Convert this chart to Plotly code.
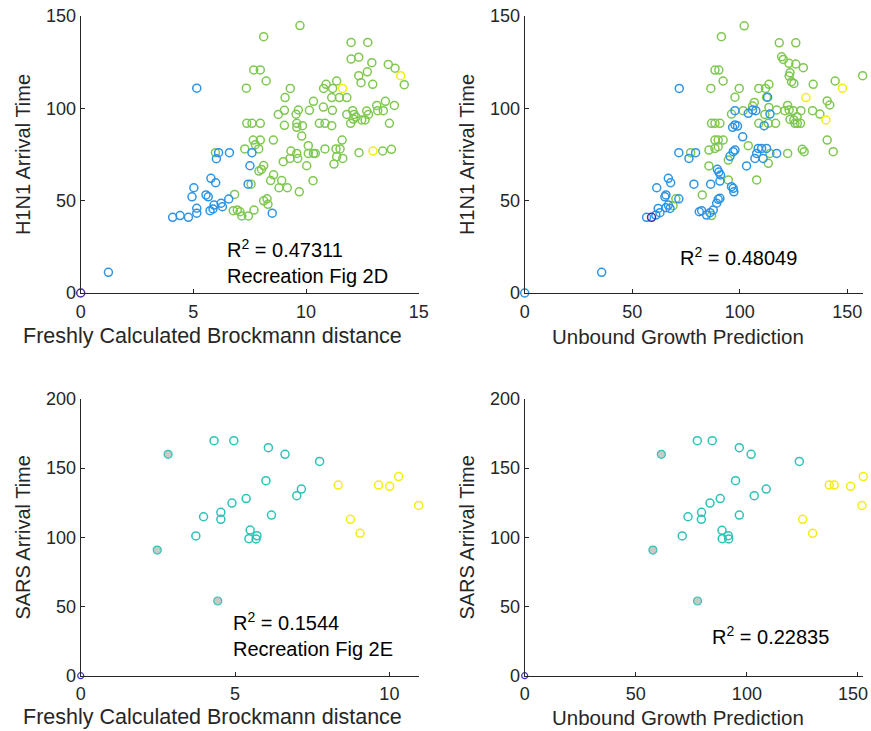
import plotly.graph_objects as go

# ---------------- H1N1: arrival time vs Brockmann distance ----------------
h1n1_brock_purple_x = [0.0]
h1n1_brock_purple_y = [0.0]

h1n1_brock_blue_x = [1.23, 5.15, 4.08, 4.41, 4.78, 5.15, 5.15, 4.94, 5.02, 5.56, 5.66, 5.78, 5.99,
                     5.74, 5.87, 5.92, 6.23, 6.29, 6.57, 6.02, 6.12, 6.60, 7.60, 7.51, 7.43, 8.50]
h1n1_brock_blue_y = [11.2, 110.9, 41.0, 41.9, 41.0, 43.2, 45.9, 52.1, 57.0, 53.1, 52.1, 62.1, 59.7,
                     44.6, 45.5, 47.6, 48.6, 46.7, 50.9, 72.7, 76.0, 76.0, 76.0, 68.9, 58.9, 43.2]

h1n1_brock_green_x = [9.73, 8.12, 7.68, 7.97, 8.23, 7.35,
                      12.00, 12.74, 12.00, 12.34, 12.92, 13.65, 13.95, 12.72, 12.34, 12.44, 12.96, 14.36,
                      11.36, 10.89, 10.78, 11.18, 9.30, 9.07, 11.14, 11.48, 11.81, 10.33, 10.77, 11.17,
                      9.66, 10.15, 9.04, 8.77, 9.56, 9.59, 9.59, 9.84, 9.04, 7.37, 7.60, 7.97, 10.59,
                      10.84, 11.14,
                      11.81, 12.07, 12.13, 12.22, 11.98, 12.10, 12.47, 12.62, 12.69, 12.77, 13.14, 13.18,
                      13.43, 13.52, 13.92, 13.70,
                      7.66, 7.97, 8.55, 7.75, 7.90, 7.28, 9.81, 10.10, 10.10, 10.33, 10.41, 10.84, 11.33,
                      11.51, 11.60, 11.36, 11.63, 11.24, 12.35, 13.40, 13.79,
                      9.33, 9.59, 9.29, 9.63, 8.99, 10.03,
                      10.31, 9.70, 8.43, 8.56, 8.92, 8.80, 9.17,
                      8.12, 8.02, 7.91,
                      6.83, 8.12, 8.27, 8.31,
                      6.77, 6.95, 7.07, 7.15, 7.44, 7.69,
                      5.98, 7.56]
h1n1_brock_green_y = [144.8, 138.8, 120.8, 120.8, 114.8, 110.9,
                      135.7, 135.7, 126.7, 127.7, 124.7, 123.8, 121.7, 119.8, 117.7, 113.9, 113.0, 112.8,
                      114.8, 113.0, 110.8, 110.8, 110.8, 105.8, 105.8, 105.8, 105.8, 103.8, 100.7, 98.9,
                      99.1, 98.9, 98.9, 96.7, 96.8, 91.9, 89.7, 90.6, 90.8, 91.9, 91.9, 91.9, 91.9,
                      91.9, 90.6,
                      96.7, 98.7, 96.7, 95.3, 91.9, 94.2, 93.7, 93.7, 98.5, 96.7, 101.6, 98.7,
                      98.7, 103.8, 101.6, 91.9,
                      82.8, 82.8, 82.8, 80.3, 78.0, 78.0, 85.0, 79.8, 75.6, 75.6, 75.6, 78.0, 78.0,
                      78.0, 82.8, 73.8, 72.9, 69.8, 76.0, 76.9, 77.8,
                      76.9, 75.6, 72.9, 72.9, 71.1, 68.9,
                      60.8, 54.8, 60.9, 64.0, 60.9, 57.0, 57.0,
                      69.0, 66.9, 66.0,
                      53.4, 49.9, 51.0, 48.0,
                      44.6, 44.9, 44.0, 41.7, 41.7, 44.9,
                      76.0, 58.9]

h1n1_brock_yellow_x = [14.20, 11.62, 12.97]
h1n1_brock_yellow_y = [117.7, 110.8, 76.9]

# ---------------- H1N1: arrival time vs unbound growth prediction ----------------
h1n1_growth_purple_x = [59.0]
h1n1_growth_purple_y = [41.0]

h1n1_growth_blue_x = [0.0, 35.8, 71.9, 71.7, 79.5, 76.4, 66.8, 67.9, 61.4, 78.7, 86.5, 65.2, 65.7, 71.7,
                      66.8, 67.6, 65.7, 62.1, 62.9, 61.0, 56.7,
                      81.2, 82.3, 84.6, 86.2, 87.7, 89.3, 90.0, 90.8,
                      96.2, 97.0, 97.3, 89.6, 90.3, 91.1, 90.8, 103.2, 95.5, 97.0, 97.8, 101.4,
                      108.6, 110.2, 112.5, 107.1, 110.9, 117.2, 107.9,
                      97.8, 99.0, 96.7, 97.8, 104.0, 106.0, 107.5, 113.0, 111.4, 114.1]
h1n1_growth_blue_y = [0.0, 11.2, 110.8, 76.0, 76.0, 72.9, 62.1, 59.7, 57.0, 58.9, 58.9, 52.1, 53.1, 51.0,
                      47.6, 45.8, 46.2, 45.8, 43.5, 42.2, 41.0,
                      44.0, 44.6, 42.2, 43.5, 44.9, 48.6, 50.7, 51.3,
                      57.6, 56.7, 54.8, 67.0, 65.5, 63.9, 60.6, 68.8, 74.0, 76.5, 77.4, 84.6,
                      78.3, 78.3, 78.3, 72.9, 72.9, 75.6, 75.6,
                      91.0, 90.4, 89.7, 98.7, 97.3, 99.1, 98.7, 106.0, 90.6, 96.9]

h1n1_growth_green_x = [102.1, 91.5, 118.4, 126.1, 119.5, 120.3, 122.9, 126.1, 129.6, 123.4, 123.0, 124.1,
                       125.2, 134.2, 144.4, 157.2,
                       140.7, 141.9, 137.3, 133.9, 128.5, 124.9, 121.0, 122.3, 123.0, 123.4, 125.2,
                       126.7, 125.7, 126.8, 128.3,
                       86.6, 88.5, 90.3, 92.3, 99.8, 97.8, 108.9, 112.0, 113.6, 112.5, 106.8, 106.0,
                       101.6, 96.2, 117.2, 113.6, 111.7, 108.9, 113.3, 116.7,
                       86.9, 88.5, 90.8, 88.5, 90.0, 92.3, 90.0, 88.5, 85.7, 85.7, 77.2, 104.0, 113.3,
                       114.1, 122.3, 129.1, 130.0, 140.7, 143.5, 107.9, 94.7, 94.7, 82.6, 86.9, 70.3,
                       69.0]
h1n1_growth_green_y = [144.7, 138.8, 135.5, 135.5, 127.9, 126.5, 124.4, 124.0, 122.0, 119.3, 117.5, 114.4,
                       113.5, 113.0, 114.8, 117.7,
                       104.0, 101.8, 96.9, 98.7, 98.7, 98.7, 98.7, 101.6, 99.1, 94.0, 93.7,
                       95.5, 91.9, 91.9, 91.9,
                       110.8, 120.7, 120.7, 114.8, 110.8, 106.0, 110.8, 110.8, 113.0, 106.0, 103.2, 101.2,
                       98.7, 96.9, 99.1, 100.5, 96.7, 91.9, 91.9, 91.9,
                       91.9, 91.9, 91.9, 82.8, 82.8, 82.8, 79.2, 78.3, 77.4, 68.8, 76.0, 79.8, 70.2,
                       75.6, 75.6, 77.8, 76.5, 82.8, 76.5, 61.2, 61.2, 72.0, 53.1, 41.9, 51.0,
                       47.3]

h1n1_growth_yellow_x = [147.8, 130.8, 140.1]
h1n1_growth_yellow_y = [110.9, 105.8, 93.7]

# ---------------- SARS: arrival time vs Brockmann distance ----------------
sars_brock_origin_x = [0.0]
sars_brock_origin_y = [0.0]
sars_brock_teal_x = [4.32, 4.96, 6.08, 6.62, 7.74, 6.00, 7.15, 7.00, 5.36, 4.90, 4.54, 4.54, 3.98, 6.18,
                     5.49, 5.71, 5.68, 5.45, 3.73]
sars_brock_teal_y = [169.9, 169.9, 164.8, 160.0, 154.9, 141.0, 134.9, 130.1, 128.0, 124.8, 118.1, 113.0,
                     114.9, 116.1, 105.3, 101.2, 98.8, 99.0, 101.0]
sars_brock_gray_x = [2.83, 2.48, 4.44]
sars_brock_gray_y = [160.0, 90.8, 54.0]
sars_brock_yellow_x = [8.34, 9.65, 10.01, 10.30, 10.95, 8.74, 9.05]
sars_brock_yellow_y = [137.8, 137.8, 136.9, 143.9, 123.1, 113.0, 102.9]

# ---------------- SARS: arrival time vs unbound growth prediction ----------------
sars_growth_origin_x = [0.0]
sars_growth_origin_y = [0.0]
sars_growth_teal_x = [77.7, 84.4, 96.6, 101.9, 123.6, 94.9, 108.7, 103.3, 88.0, 83.4, 79.6, 79.5, 73.5,
                      96.6, 88.8, 91.6, 91.8, 88.9, 70.9]
sars_growth_teal_y = [169.9, 169.9, 164.8, 160.0, 154.9, 141.0, 134.9, 130.1, 128.0, 124.8, 118.1, 113.0,
                      114.9, 116.1, 105.1, 101.2, 98.8, 99.0, 101.0]
sars_growth_gray_x = [61.5, 57.7, 77.8]
sars_growth_gray_y = [160.0, 90.8, 54.0]
sars_growth_yellow_x = [137.1, 139.3, 146.7, 152.4, 151.8, 125.1, 129.6]
sars_growth_yellow_y = [137.8, 137.8, 136.9, 143.9, 123.1, 113.0, 102.9]

# ---------------- panel text ----------------
x_titles = ["Freshly Calculated Brockmann distance", "Unbound Growth Prediction",
            "Freshly Calculated Brockmann distance", "Unbound Growth Prediction"]
y_titles = ["H1N1 Arrival Time", "H1N1 Arrival Time", "SARS Arrival Time", "SARS Arrival Time"]
r2_labels = ["R<sup>2</sup> = 0.47311<br>Recreation Fig 2D", "R<sup>2</sup> = 0.48049",
             "R<sup>2</sup> = 0.1544<br>Recreation Fig 2E", "R<sup>2</sup> = 0.22835"]
x_ranges = [[0, 15], [0, 157.5], [0, 10.95], [0, 152.4]]
y_ranges = [[0, 150], [0, 150], [0, 200], [0, 200]]
x_ticks = [[0, 5, 10, 15], [0, 50, 100, 150], [0, 5, 10], [0, 50, 100, 150]]
y_ticks = [[0, 50, 100, 150], [0, 50, 100, 150], [0, 50, 100, 150, 200], [0, 50, 100, 150, 200]]

BLUE = "#2b94e6"
GREEN = "#7ec84f"
YELLOW = "#f2ee12"
TEAL = "#2cc3b5"
PURPLE = "#4a2aa6"
DARKBLUE = "#3a32c8"
GRAY_FILL = "#c9c9c5"
TEXT = "#262626"
FONT = "Liberation Sans, Arial, Helvetica, sans-serif"

W, H = 871, 731
x_domains = [[80.7 / W, 418.7 / W], [524.7 / W, 863.3 / W]]
y_domains = [[(H - 675.7) / H, (H - 399) / H], [(H - 293) / H, (H - 16) / H]]

fig = go.Figure()


def open_pts(x, y, color, axis, size=8, width=1.5):
    fig.add_trace(go.Scatter(
        x=x, y=y, mode="markers", xaxis="x" + axis, yaxis="y" + axis,
        marker=dict(symbol="circle-open", size=size, color=color, line=dict(width=width, color=color)),
        cliponaxis=False, showlegend=False, hoverinfo="x+y"))


def filled_pts(x, y, fill, edge, axis, size=8):
    fig.add_trace(go.Scatter(
        x=x, y=y, mode="markers", xaxis="x" + axis, yaxis="y" + axis,
        marker=dict(symbol="circle", size=size, color=fill, line=dict(width=1.2, color=edge)),
        cliponaxis=False, showlegend=False, hoverinfo="x+y"))


# top-left
open_pts(h1n1_brock_green_x, h1n1_brock_green_y, GREEN, "")
open_pts(h1n1_brock_blue_x, h1n1_brock_blue_y, BLUE, "")
open_pts(h1n1_brock_yellow_x, h1n1_brock_yellow_y, YELLOW, "")
open_pts(h1n1_brock_purple_x, h1n1_brock_purple_y, PURPLE, "")
# top-right
open_pts(h1n1_growth_green_x, h1n1_growth_green_y, GREEN, "2")
open_pts(h1n1_growth_blue_x, h1n1_growth_blue_y, BLUE, "2")
open_pts(h1n1_growth_yellow_x, h1n1_growth_yellow_y, YELLOW, "2")
open_pts(h1n1_growth_purple_x, h1n1_growth_purple_y, PURPLE, "2")
# bottom-left
open_pts(sars_brock_teal_x, sars_brock_teal_y, TEAL, "3")
filled_pts(sars_brock_gray_x, sars_brock_gray_y, GRAY_FILL, TEAL, "3")
open_pts(sars_brock_yellow_x, sars_brock_yellow_y, YELLOW, "3")
open_pts(sars_brock_origin_x, sars_brock_origin_y, DARKBLUE, "3", size=6, width=1.2)
# bottom-right
open_pts(sars_growth_teal_x, sars_growth_teal_y, TEAL, "4")
filled_pts(sars_growth_gray_x, sars_growth_gray_y, GRAY_FILL, TEAL, "4")
open_pts(sars_growth_yellow_x, sars_growth_yellow_y, YELLOW, "4")
open_pts(sars_growth_origin_x, sars_growth_origin_y, DARKBLUE, "4", size=6, width=1.2)

layout = dict(
    width=W, height=H, margin=dict(l=0, r=0, t=0, b=0),
    paper_bgcolor="white", plot_bgcolor="white",
    font=dict(family=FONT, color=TEXT, size=18),
    showlegend=False,
)

panel_pos = [(0, 1), (1, 1), (0, 0), (1, 0)]  # (column, row)
annotations = []
r2_pos = [(225, 234), (678, 242), (231, 607), (710, 621)]
x_title_pos = [(212, 336), (678, 336), (212, 717), (678, 717)]
x_title_size = [21.5, 20.5, 21.5, 20.5]
for i, (col, row) in enumerate(panel_pos):
    suffix = "" if i == 0 else str(i + 1)
    common = dict(
        showline=True, linecolor=TEXT, linewidth=1, ticks="inside", ticklen=4, tickwidth=1,
        tickcolor=TEXT, showgrid=False, zeroline=False, automargin=False,
        tickfont=dict(family=FONT, size=18, color=TEXT),
    )
    tick_text = [str(v) for v in x_ticks[i]]
    if i == 3:
        # the last label sits at the page edge; it is drawn as a right-aligned annotation below
        tick_text[-1] = ""
    layout["xaxis" + suffix] = dict(
        common, domain=x_domains[col], anchor="y" + suffix, range=x_ranges[i],
        tickmode="array", tickvals=x_ticks[i], ticktext=tick_text, ticklabelstandoff=2,
    )
    layout["yaxis" + suffix] = dict(
        common, domain=y_domains[row], anchor="x" + suffix, range=y_ranges[i],
        tickmode="array", tickvals=y_ticks[i],
        title=dict(text=y_titles[i], font=dict(family=FONT, size=20, color=TEXT), standoff=10),
    )
    # x-axis label
    tx, ty = x_title_pos[i]
    annotations.append(dict(
        text=x_titles[i], xref="paper", yref="paper", x=tx / W, y=(H - ty) / H,
        xanchor="center", yanchor="middle", showarrow=False,
        font=dict(family=FONT, size=x_title_size[i], color=TEXT),
    ))
    # R^2 label
    px, py = r2_pos[i]
    annotations.append(dict(
        text=r2_labels[i], xref="paper", yref="paper", x=px / W, y=(H - py) / H,
        xanchor="left", yanchor="top", align="left", showarrow=False,
        font=dict(family=FONT, size=20, color="black"),
    ))

# edge tick label of the bottom-right panel
annotations.append(dict(
    text=str(x_ticks[3][-1]), xref="paper", yref="paper", x=870 / W, y=(H - 694) / H,
    xanchor="right", yanchor="middle", showarrow=False,
    font=dict(family=FONT, size=18, color=TEXT),
))

layout["annotations"] = annotations
fig.update_layout(**layout)
fig.write_html("out.html")
